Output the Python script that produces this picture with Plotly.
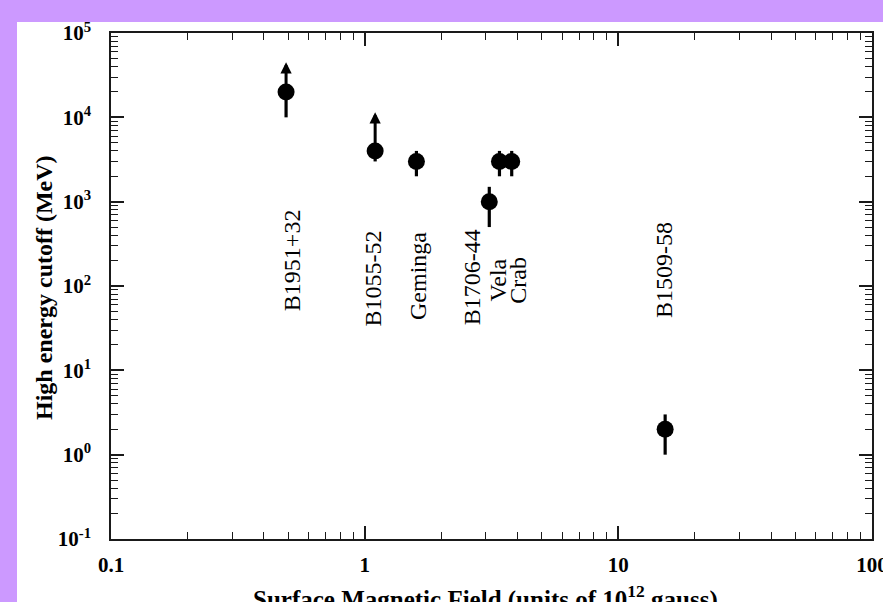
import math
import plotly.graph_objects as go

# ---- data ----
pulsars = ["B1951+32", "B1055-52", "Geminga", "B1706-44", "Vela", "Crab", "B1509-58"]
field = [0.49, 1.1, 1.6, 3.1, 3.4, 3.8, 15.3]          # 10^12 gauss
cutoff = [2.0e4, 4.0e3, 3.0e3, 1.0e3, 3.0e3, 3.0e3, 2.0]  # MeV
upper = [None, None, 4.0e3, 1.5e3, 4.0e3, 4.0e3, 3.0]   # upper end of error bar
lower = [1.0e4, 3.0e3, 2.0e3, 5.0e2, 2.0e3, 2.0e3, 1.0]  # lower end of error bar
limit_top = [4.5e4, 1.15e4, None, None, None, None, None]  # lower-limit arrows (tip)

x_labels = {"0.1": "0.1", "1": "1", "10": "10", "100": "100"}
y_labels = {"0.1": "10<sup>-1</sup>", "1": "10<sup>0</sup>", "10": "10<sup>1</sup>",
            "100": "10<sup>2</sup>", "1000": "10<sup>3</sup>", "1,000": "10<sup>3</sup>",
            "10000": "10<sup>4</sup>", "10,000": "10<sup>4</sup>",
            "100000": "10<sup>5</sup>", "100,000": "10<sup>5</sup>"}

# label placement (pixel shift from point, label centre in MeV)
label_dx = [6, -2, 1, -17, -2, 6, -1]
label_y = [203, 123, 133, 128, 118, 118, 155]

err_plus = [0 if u is None else u - c for u, c in zip(upper, cutoff)]
err_minus = [c - l for c, l in zip(cutoff, lower)]

W, H = 883, 602
ML, MR, MT, MB = 111, 11, 33, 63
PW, PH = W - ML - MR, H - MT - MB
SERIF = "Liberation Serif"
INK = "#1a1a1a"

fig = go.Figure()
fig.add_trace(go.Scatter(
    x=field, y=cutoff, mode="markers",
    marker=dict(symbol="circle", size=17, color="black"),
    error_y=dict(type="data", symmetric=False, array=err_plus, arrayminus=err_minus,
                 thickness=3.2, width=0, color="black"),
    showlegend=False, hoverinfo="skip",
))

annotations = []
for xv, c, top in zip(field, cutoff, limit_top):
    if top is None:
        continue
    annotations.append(dict(
        x=math.log10(xv), y=math.log10(top), ax=math.log10(xv), ay=math.log10(c),
        xref="x", yref="y", axref="x", ayref="y", text="", showarrow=True,
        arrowhead=2, arrowsize=0.75, arrowwidth=3, arrowcolor="black", standoff=0,
    ))

for name, xv, dx, ly in zip(pulsars, field, label_dx, label_y):
    annotations.append(dict(
        x=math.log10(xv), y=math.log10(ly), xref="x", yref="y", xshift=dx,
        text=name, showarrow=False, textangle=-90,
        font=dict(family=SERIF, size=24, color="black"),
        xanchor="center", yanchor="middle",
    ))

# axis titles
annotations.append(dict(
    x=(44 - ML) / PW, y=(MT + PH - 288) / PH, xref="paper", yref="paper",
    text="High energy cutoff (MeV)", showarrow=False, textangle=-90,
    font=dict(family=SERIF, size=24, color="black", weight="bold"),
    xanchor="center", yanchor="middle",
))
annotations.append(dict(
    x=(485 - ML) / PW, y=(MT + PH - 579) / PH, xref="paper", yref="paper",
    text="Surface Magnetic Field (units of 10<sup>12</sup> gauss)", showarrow=False,
    font=dict(family=SERIF, size=25, color="black", weight="bold"),
    xanchor="center", yanchor="top",
))

axis_common = dict(
    type="log", showline=True, linecolor=INK, linewidth=1.5, mirror="ticks",
    ticks="inside", ticklen=13, tickwidth=1.5, tickcolor=INK,
    showgrid=False, zeroline=False, automargin=False,
    tickmode="linear", tick0=0, dtick=1, exponentformat="none",
    ticklabeloverflow="allow",
    tickfont=dict(family=SERIF, size=21, color="black", weight="bold"),
    minor=dict(dtick="D1", ticks="inside", ticklen=7, tickwidth=1.2,
               tickcolor=INK, showgrid=False),
)

fig.update_layout(
    width=W, height=H, margin=dict(l=ML, r=MR, t=MT, b=MB, pad=0),
    paper_bgcolor="#cc99ff", plot_bgcolor="white",
    xaxis=dict(axis_common, range=[-1, 2.0002], labelalias=x_labels, ticklabelstandoff=6),
    yaxis=dict(axis_common, range=[-1, 5.0002], labelalias=y_labels, ticklabelstandoff=14),
    annotations=annotations,
    shapes=[dict(type="rect", xref="paper", yref="paper", layer="below",
                 x0=(17 - ML) / PW, x1=(W + 20 - ML) / PW,
                 y0=(MT + PH - (H + 20)) / PH, y1=(MT + PH - 22) / PH,
                 fillcolor="white", line=dict(width=0))],
)

fig.write_html("out.html", config={"displayModeBar": False},
               post_script="document.body.style.margin='0';document.body.style.overflow='hidden';")
